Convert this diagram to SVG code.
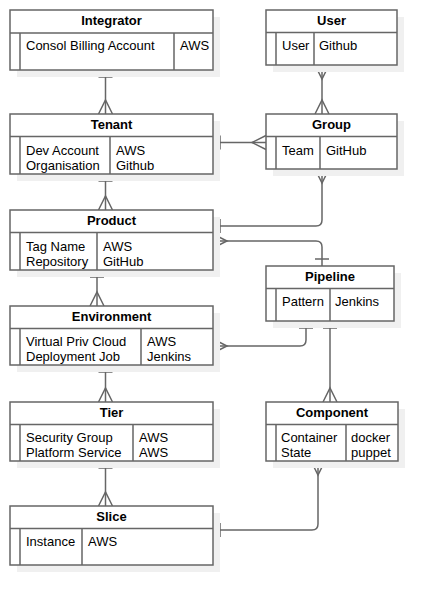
<svg xmlns="http://www.w3.org/2000/svg" width="438" height="606" viewBox="0 0 438 606">
<style>
.sh{fill:#f0f0f0;stroke:none}
.bx{fill:#ffffff;stroke:#666666;stroke-width:1.5}
.ln{stroke:#666666;stroke-width:1.5;fill:none}
.hd{font-family:"Liberation Sans",Arial,sans-serif;font-size:13px;font-weight:bold;fill:#000;text-anchor:middle}
.tx{font-family:"Liberation Sans",Arial,sans-serif;font-size:13px;fill:#000}
.cn{stroke:#666666;stroke-width:1.5;fill:none}
</style>
<defs>
<marker id="one" markerUnits="userSpaceOnUse" markerWidth="20" markerHeight="20" viewBox="-10 -10 20 20" refX="0" refY="0" orient="auto" overflow="visible">
<path d="M7,-7 V7" stroke="#666666" stroke-width="1.5" fill="none"/>
</marker>
<marker id="many" markerUnits="userSpaceOnUse" markerWidth="30" markerHeight="30" viewBox="-15 -15 30 30" refX="0" refY="0" orient="auto-start-reverse" overflow="visible">
<path d="M0,-7 L-14,0 L0,7" stroke="#666666" stroke-width="1.5" fill="none"/>
</marker>
</defs>
<rect width="438" height="606" fill="#ffffff"/>
<g id="connectors">
<path class="cn" d="M105.5,70 V114" marker-start="url(#one)" marker-end="url(#many)"/>
<path class="cn" d="M105.5,174 V210" marker-start="url(#one)" marker-end="url(#many)"/>
<path class="cn" d="M97,270 V306" marker-start="url(#one)" marker-end="url(#many)"/>
<path class="cn" d="M105.5,365 V402" marker-start="url(#one)" marker-end="url(#many)"/>
<path class="cn" d="M105.5,461 V506" marker-start="url(#one)" marker-end="url(#many)"/>
<path class="cn" d="M213,142.5 H266" marker-start="url(#one)" marker-end="url(#many)"/>
<path class="cn" d="M213,226 H316 Q322,226 322,220 V169" marker-start="url(#one)" marker-end="url(#many)"/>
<path class="cn" d="M322,266 V247 Q322,241 316,241 H213" marker-start="url(#one)" marker-end="url(#many)"/>
<path class="cn" d="M306,321 V340 Q306,346 300,346 H213" marker-start="url(#one)" marker-end="url(#many)"/>
<path class="cn" d="M330,321 V402" marker-start="url(#one)" marker-end="url(#many)"/>
<path class="cn" d="M213,530 H312 Q318,530 318,524 V461" marker-start="url(#one)" marker-end="url(#many)"/>
<path class="cn" d="M322,65 V114" marker-start="url(#many)" marker-end="url(#many)"/>
</g>
<g id="integrator">
<rect class="sh" x="17" y="17" width="203" height="60"/>
<rect class="bx" x="10" y="10" width="203" height="60"/>
<path class="ln" d="M10,33 H213 M20,33 V70 M174,33 V70"/>
<text class="hd" x="111.5" y="25">Integrator</text>
<text class="tx" x="26" y="50">Consol Billing Account</text>
<text class="tx" x="180" y="50">AWS</text>
</g>
<g id="tenant">
<rect class="sh" x="17" y="121" width="203" height="60"/>
<rect class="bx" x="10" y="114" width="203" height="60"/>
<path class="ln" d="M10,136.5 H213 M20,136.5 V174 M110,136.5 V174"/>
<text class="hd" x="111.5" y="129">Tenant</text>
<text class="tx" x="26" y="154.5">Dev Account</text>
<text class="tx" x="26" y="169.5">Organisation</text>
<text class="tx" x="116" y="154.5">AWS</text>
<text class="tx" x="116" y="169.5">Github</text>
</g>
<g id="product">
<rect class="sh" x="17" y="217" width="203" height="60"/>
<rect class="bx" x="10" y="210" width="203" height="60"/>
<path class="ln" d="M10,232.5 H213 M20,232.5 V270 M97,232.5 V270"/>
<text class="hd" x="111.5" y="225">Product</text>
<text class="tx" x="26" y="250.5">Tag Name</text>
<text class="tx" x="26" y="265.5">Repository</text>
<text class="tx" x="103" y="250.5">AWS</text>
<text class="tx" x="103" y="265.5">GitHub</text>
</g>
<g id="environment">
<rect class="sh" x="17" y="313" width="203" height="59"/>
<rect class="bx" x="10" y="306" width="203" height="59"/>
<path class="ln" d="M10,328.5 H213 M20,328.5 V365 M141,328.5 V365"/>
<text class="hd" x="111.5" y="321">Environment</text>
<text class="tx" x="26" y="346">Virtual Priv Cloud</text>
<text class="tx" x="26" y="361">Deployment Job</text>
<text class="tx" x="147" y="346">AWS</text>
<text class="tx" x="147" y="361">Jenkins</text>
</g>
<g id="tier">
<rect class="sh" x="17" y="409" width="203" height="59"/>
<rect class="bx" x="10" y="402" width="203" height="59"/>
<path class="ln" d="M10,424.5 H213 M20,424.5 V461 M133,424.5 V461"/>
<text class="hd" x="111.5" y="417">Tier</text>
<text class="tx" x="26" y="442">Security Group</text>
<text class="tx" x="26" y="457">Platform Service</text>
<text class="tx" x="139" y="442">AWS</text>
<text class="tx" x="139" y="457">AWS</text>
</g>
<g id="slice">
<rect class="sh" x="17" y="513" width="203" height="59"/>
<rect class="bx" x="10" y="506" width="203" height="59"/>
<path class="ln" d="M10,528.5 H213 M20,528.5 V565 M82,528.5 V565"/>
<text class="hd" x="111.5" y="521">Slice</text>
<text class="tx" x="26" y="546">Instance</text>
<text class="tx" x="88" y="546">AWS</text>
</g>
<g id="user">
<rect class="sh" x="273" y="17" width="131" height="55"/>
<rect class="bx" x="266" y="10" width="131" height="55"/>
<path class="ln" d="M266,32.5 H397 M276,32.5 V65 M314,32.5 V65"/>
<text class="hd" x="331.5" y="25">User</text>
<text class="tx" x="282" y="50">User</text>
<text class="tx" x="319" y="50">Github</text>
</g>
<g id="group">
<rect class="sh" x="273" y="121" width="131" height="55"/>
<rect class="bx" x="266" y="114" width="131" height="55"/>
<path class="ln" d="M266,136.5 H397 M276,136.5 V169 M320,136.5 V169"/>
<text class="hd" x="331.5" y="129">Group</text>
<text class="tx" x="282" y="154.5">Team</text>
<text class="tx" x="326" y="154.5">GitHub</text>
</g>
<g id="pipeline">
<rect class="sh" x="273" y="273" width="128" height="55"/>
<rect class="bx" x="266" y="266" width="128" height="55"/>
<path class="ln" d="M266,288.5 H394 M276,288.5 V321 M330,288.5 V321"/>
<text class="hd" x="330" y="281">Pipeline</text>
<text class="tx" x="282" y="306">Pattern</text>
<text class="tx" x="335" y="306">Jenkins</text>
</g>
<g id="component">
<rect class="sh" x="273" y="409" width="132" height="59"/>
<rect class="bx" x="266" y="402" width="132" height="59"/>
<path class="ln" d="M266,424.5 H398 M276,424.5 V461 M346,424.5 V461"/>
<text class="hd" x="332" y="417">Component</text>
<text class="tx" x="281" y="442">Container</text>
<text class="tx" x="281" y="457">State</text>
<text class="tx" x="351" y="442">docker</text>
<text class="tx" x="351" y="457">puppet</text>
</g>
</svg>
